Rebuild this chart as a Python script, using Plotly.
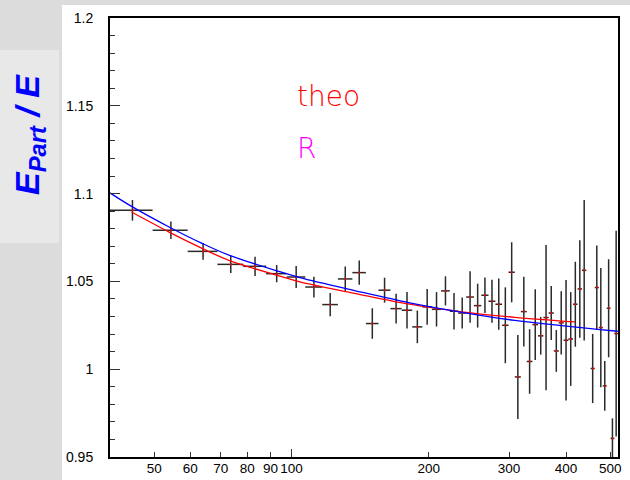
import plotly.graph_objects as go
import math

# ---- data ----
bin_x = [44.8, 54.4, 64.0, 73.6, 83.2, 92.8, 102.4, 112.0, 121.6, 131.2,
         140.8, 150.4, 160.0, 169.6, 179.2, 188.8, 198.4, 208.0, 217.6, 227.2,
         236.8, 246.4, 256.0, 265.6, 275.2, 284.8, 294.4, 304.0, 313.6, 323.2,
         332.8, 342.4, 352.0, 361.6, 371.2, 380.8, 390.4, 400.0, 409.6, 419.2,
         428.8, 438.4, 457.6, 467.2, 476.8, 486.4, 496.0, 505.6, 515.2]
bin_xerr = [4.8] * len(bin_x)
ratio = [1.0905, 1.0791, 1.0671, 1.0597, 1.0586, 1.0544, 1.0525, 1.0468, 1.0368, 1.0514,
         1.0550, 1.0260, 1.0450, 1.0345, 1.0336, 1.0241, 1.0355, 1.0341, 1.0446, 1.0330,
         1.0320, 1.0411, 1.0362, 1.0421, 1.0387, 1.0370, 1.0250, 1.0552, 0.9956, 1.0328,
         1.0044, 1.0254, 1.0190, 1.0294, 1.0320, 1.0104, 1.0264, 1.0165, 1.0172, 1.0370,
         1.0457, 1.0563, 1.0004, 1.0465, 1.0237, 0.9905, 1.0347, 0.9606, 1.0203]
ratio_err = [0.0059, 0.0050, 0.0048, 0.0049, 0.0055, 0.0049, 0.0062, 0.0059, 0.0066, 0.0071,
             0.0069, 0.0087, 0.0071, 0.0085, 0.0104, 0.0093, 0.0102, 0.0098, 0.0083, 0.0104,
             0.0088, 0.0147, 0.0125, 0.0101, 0.0123, 0.0146, 0.0216, 0.0171, 0.0239, 0.0199,
             0.0184, 0.0201, 0.0107, 0.0414, 0.0154, 0.0119, 0.0180, 0.0343, 0.0267, 0.0242,
             0.0278, 0.0400, 0.0197, 0.0240, 0.0340, 0.0141, 0.0279, 0.0114, 0.0586]

blue_x = [40.0, 44.6, 53.9, 63.5, 72.9, 94.3, 104.3, 137.6, 181.7, 233.9, 308.8, 519.5]
blue_y = [1.1004, 1.0927, 1.0810, 1.0718, 1.0650, 1.0555, 1.0522, 1.0448, 1.0378, 1.0326, 1.0278, 1.0216]

red_x = [44.6, 53.9, 63.5, 72.9, 94.3, 104.3, 137.6, 181.7, 233.9, 308.8, 418.1]
red_y = [1.0895, 1.0781, 1.0690, 1.0620, 1.0530, 1.0497, 1.0432, 1.0370, 1.0328, 1.0295, 1.0269]

x_ticks = [50, 60, 70, 80, 90, 100, 200, 300, 400, 500]
x_ticktext = ["50", "60", "70", "80", "90", "100", "200", "300", "400", "500"]
y_ticks = [0.95, 1.0, 1.05, 1.1, 1.15, 1.2]
y_ticktext = ["0.95", "1", "1.05", "1.1", "1.15", "1.2"]

X_RANGE = [40, 520]
Y_RANGE = [0.95, 1.2]

fig = go.Figure()

fig.add_trace(go.Scatter(
    x=bin_x, y=ratio, mode="markers",
    marker=dict(color="red", size=2),
    error_y=dict(type="data", array=ratio_err, visible=True, color="#2a2a2a",
                 thickness=1.5, width=0),
    error_x=dict(type="data", array=bin_xerr, visible=True, color="#2a2a2a",
                 thickness=1.5, width=0),
    showlegend=False, cliponaxis=True,
))
fig.add_trace(go.Scatter(x=red_x, y=red_y, mode="lines", line=dict(color="#ff0000", width=1.3, shape="spline"),
                         showlegend=False))
fig.add_trace(go.Scatter(x=blue_x, y=blue_y, mode="lines", line=dict(color="#0000ff", width=1.3, shape="spline"),
                         showlegend=False))

W, H = 630, 480
L, R, T, B = 110, 12, 18, 23
pw, ph = W - L - R, H - T - B


def px2paper_x(px):
    return (px - L) / pw


def px2paper_y(py):
    return (H - B - py) / ph


shapes = [
    # white panel
    dict(type="rect", xref="paper", yref="paper", layer="below",
         x0=px2paper_x(62), x1=px2paper_x(640), y0=px2paper_y(490), y1=px2paper_y(5),
         fillcolor="white", line=dict(width=0)),
    # title box
    dict(type="rect", xref="paper", yref="paper", layer="below",
         x0=px2paper_x(-5), x1=px2paper_x(59), y0=px2paper_y(243), y1=px2paper_y(50),
         fillcolor="#e8e8e8", line=dict(width=0)),
]

font = "Liberation Sans, Arial, sans-serif"

fig.update_layout(
    width=W, height=H,
    margin=dict(l=L, r=R, t=T, b=B, pad=0, autoexpand=False),
    paper_bgcolor="#dcdcdc", plot_bgcolor="white",
    shapes=shapes,
    xaxis=dict(type="log", range=[math.log10(X_RANGE[0]), math.log10(X_RANGE[1])],
               tickvals=x_ticks, ticktext=x_ticktext, ticks="inside", ticklen=5,
               tickcolor="#333333", tickwidth=1, showgrid=False, zeroline=False,
               showline=True, linecolor="black", linewidth=2, mirror=True,
               automargin=False, ticklabelstandoff=-2, tickangle=0,
               tickfont=dict(family=font, size=13.5, color="black"),
               minor=dict(tickvals=[100], ticks="inside", ticklen=8, tickcolor="#333333", showgrid=False)),
    yaxis=dict(range=Y_RANGE, tickvals=y_ticks, ticktext=y_ticktext, ticks="inside", ticklen=10,
               tickcolor="#333333", tickwidth=1, showgrid=False, zeroline=False,
               showline=True, linecolor="black", linewidth=2, mirror=True,
               automargin=False,
               tickfont=dict(family=font, size=14, color="black"), ticklabelstandoff=12,
               minor=dict(dtick=0.01, ticks="inside", ticklen=5, tickcolor="#333333", showgrid=False)),
    annotations=[
        dict(text="<b><i>E<sub>Part</sub> / E</i></b>", xref="paper", yref="paper",
             x=px2paper_x(29), y=px2paper_y(135), showarrow=False, textangle=-90,
             font=dict(family=font, size=34, color="#0000ff"), xanchor="center", yanchor="middle"),
        dict(text="theo", xref="paper", yref="paper", x=px2paper_x(295), y=px2paper_y(96),
             showarrow=False, xanchor="left", yanchor="middle",
             font=dict(family="DejaVu Sans", size=28, color="#ff0000", weight=200)),
        dict(text="R", xref="paper", yref="paper", x=px2paper_x(295), y=px2paper_y(148),
             showarrow=False, xanchor="left", yanchor="middle",
             font=dict(family="DejaVu Sans", size=28, color="#ff00ff", weight=200)),
    ],
)

fig.write_html("out.html")
